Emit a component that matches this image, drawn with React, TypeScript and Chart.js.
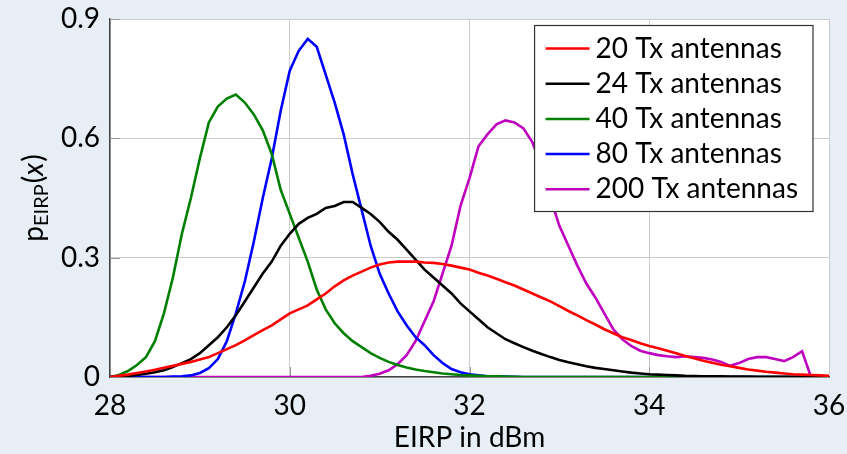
import React, { useEffect, useRef } from "react";
import { Chart, registerables } from "chart.js";

Chart.register(...registerables);

const X = [
  28.0, 28.1, 28.2, 28.3, 28.4, 28.5, 28.6, 28.7, 28.8, 28.9,
  29.0, 29.1, 29.2, 29.3, 29.4, 29.5, 29.6, 29.7, 29.8, 29.9,
  30.0, 30.1, 30.2, 30.3, 30.4, 30.5, 30.6, 30.7, 30.8, 30.9,
  31.0, 31.1, 31.2, 31.3, 31.4, 31.5, 31.6, 31.7, 31.8, 31.9,
  32.0, 32.1, 32.2, 32.3, 32.4, 32.5, 32.6, 32.7, 32.8, 32.9,
  33.0, 33.1, 33.2, 33.3, 33.4, 33.5, 33.6, 33.7, 33.8, 33.9,
  34.0, 34.1, 34.2, 34.3, 34.4, 34.5, 34.6, 34.7, 34.8, 34.9,
  35.0, 35.1, 35.2, 35.3, 35.4, 35.5, 35.6, 35.7, 35.8, 35.9,
  36.0,
];

const TX20 = [
  0, 0.003, 0.006, 0.01, 0.014, 0.018, 0.023, 0.028, 0.033, 0.038,
  0.044, 0.05, 0.06, 0.07, 0.08, 0.092, 0.105, 0.118, 0.13, 0.145,
  0.16, 0.17, 0.18, 0.195, 0.21, 0.228, 0.243, 0.255, 0.265, 0.275,
  0.283, 0.288, 0.29, 0.29, 0.29, 0.288, 0.287, 0.284, 0.28, 0.275,
  0.27, 0.262, 0.255, 0.247, 0.238, 0.23, 0.22, 0.21, 0.2, 0.19,
  0.178, 0.166, 0.155, 0.143, 0.132, 0.12, 0.11, 0.1, 0.093, 0.085,
  0.078, 0.072, 0.066, 0.06, 0.053, 0.047, 0.041, 0.036, 0.031, 0.027,
  0.023, 0.019, 0.016, 0.013, 0.011, 0.009, 0.007, 0.006, 0.005, 0.004,
  0.003,
];

const TX24 = [
  0, 0.001, 0.003, 0.005, 0.008, 0.012, 0.017, 0.025, 0.035, 0.045,
  0.06, 0.08, 0.1, 0.125, 0.155, 0.19, 0.225, 0.26, 0.29, 0.33,
  0.36, 0.385, 0.4, 0.41, 0.425, 0.43, 0.44, 0.44, 0.425, 0.41,
  0.39, 0.365, 0.345, 0.32, 0.295, 0.27, 0.25, 0.23, 0.21, 0.185,
  0.165, 0.145, 0.125, 0.11, 0.095, 0.085, 0.075, 0.066, 0.058, 0.05,
  0.043, 0.037, 0.032, 0.027, 0.023, 0.02, 0.017, 0.014, 0.011, 0.009,
  0.007, 0.006, 0.005, 0.004, 0.003, 0.0025, 0.002, 0.0018, 0.0015, 0.0012,
  0.001, 0.001, 0.0008, 0.0006, 0.0005, 0.0004, 0.0003, 0.0002, 0.0001, 0,
  0,
];

const TX40 = [
  0, 0.005, 0.015, 0.03, 0.05, 0.09, 0.16, 0.25, 0.36, 0.45,
  0.55, 0.64, 0.68, 0.7, 0.71, 0.69, 0.66, 0.62, 0.56, 0.47,
  0.41, 0.35, 0.29, 0.22, 0.17, 0.135, 0.11, 0.09, 0.075, 0.06,
  0.048, 0.038, 0.03, 0.024, 0.019, 0.015, 0.012, 0.009, 0.007, 0.005,
  0.004, 0.003, 0.002, 0.0015, 0.001, 0.0005, 0, 0, 0, 0,
  0, 0, 0, 0, 0, 0, 0, 0, 0, 0,
  0, 0, 0, 0, 0, 0, 0, 0, 0, 0,
  0, 0, 0, 0, 0, 0, 0, 0, 0, 0,
  0,
];

const TX80 = [
  0, 0, 0, 0, 0, 0, 0, 0.001, 0.002, 0.004,
  0.01, 0.022, 0.045, 0.09, 0.16, 0.24, 0.34, 0.45, 0.55, 0.67,
  0.77, 0.82, 0.85, 0.83, 0.76, 0.69, 0.61, 0.51, 0.42, 0.33,
  0.26, 0.21, 0.165, 0.13, 0.1, 0.08, 0.055, 0.035, 0.02, 0.012,
  0.007, 0.004, 0.002, 0.0015, 0.001, 0.0005, 0, 0, 0, 0,
  0, 0, 0, 0, 0, 0, 0, 0, 0, 0,
  0, 0, 0, 0, 0, 0, 0, 0, 0, 0,
  0, 0, 0, 0, 0, 0, 0, 0, 0, 0,
  0,
];

const TX200 = [
  0, 0, 0, 0, 0, 0, 0, 0, 0, 0,
  0, 0, 0, 0, 0, 0, 0, 0, 0, 0,
  0, 0, 0, 0, 0, 0, 0, 0, 0, 0.003,
  0.008, 0.017, 0.032, 0.055, 0.09, 0.14, 0.19, 0.26, 0.33, 0.43,
  0.5, 0.58, 0.61, 0.635, 0.645, 0.64, 0.625, 0.59, 0.53, 0.45,
  0.38, 0.33, 0.28, 0.235, 0.2, 0.16, 0.12, 0.095, 0.078, 0.066,
  0.06, 0.055, 0.052, 0.05, 0.052, 0.05, 0.048, 0.044, 0.038, 0.028,
  0.035, 0.045, 0.05, 0.05, 0.045, 0.04, 0.05, 0.065, 0, 0,
  0,
];

const SERIES_LABELS = ["20 Tx antennas", "24 Tx antennas", "40 Tx antennas", "80 Tx antennas", "200 Tx antennas"];
const SERIES_COLORS = ["#ff0000", "#000000", "#008000", "#0000ff", "#bf00bf"];
const SERIES_VALUES = [TX20, TX24, TX40, TX80, TX200];
const Y_TICKS = [0, 0.3, 0.6, 0.9];
const X_TICKS = [28, 30, 32, 34, 36];
const X_TITLE = "EIRP in dBm";

const FONT = "Lato, 'DejaVu Sans', sans-serif";
const FS = 28;
const BG = "#e8eef6";

const zeroPad = (s: any) => {
  s.paddingLeft = 0;
  s.paddingRight = 0;
  s.paddingTop = 0;
  s.paddingBottom = 0;
};

const bgPlugin = {
  id: "bgPlugin",
  beforeDraw(chart: any) {
    const { ctx, width, height, chartArea } = chart;
    ctx.save();
    ctx.fillStyle = BG;
    ctx.fillRect(0, 0, width, height);
    ctx.fillStyle = "#ffffff";
    ctx.fillRect(chartArea.left, chartArea.top, chartArea.right - chartArea.left, chartArea.bottom - chartArea.top);
    ctx.restore();
  },
  beforeDatasetsDraw(chart: any) {
    const { ctx, chartArea, scales } = chart;
    ctx.save();
    ctx.strokeStyle = "#999999";
    ctx.lineWidth = 1;
    for (const v of Y_TICKS) {
      if (v === 0) continue;
      const y = Math.round(scales.y.getPixelForValue(v)) + 0.5;
      ctx.beginPath();
      ctx.moveTo(chartArea.left, y);
      ctx.lineTo(chartArea.left + 10, y);
      ctx.stroke();
    }
    for (const v of X_TICKS) {
      if (v === 28 || v === 36) continue;
      const x = Math.round(scales.x.getPixelForValue(v)) + 0.5;
      ctx.beginPath();
      ctx.moveTo(x, chartArea.bottom);
      ctx.lineTo(x, chartArea.bottom - 10);
      ctx.stroke();
    }
    ctx.restore();
  },
  afterDatasetsDraw(chart: any) {
    const { ctx, chartArea } = chart;
    ctx.save();
    // legend
    ctx.font = `${FS}px ${FONT}`;
    const items = chart.data.datasets;
    let maxW = 0;
    for (const d of items) maxW = Math.max(maxW, ctx.measureText(d.label).width);
    const padL = 11, lineLen = 44, gap = 6, padR = 15, rowH = 35.2, padT = 23;
    const boxW = padL + lineLen + gap + maxW + padR;
    const boxH = 186;
    const boxRight = chartArea.right - 16;
    const boxTop = chartArea.top + 6.5;
    const boxLeft = boxRight - boxW;
    ctx.fillStyle = "#ffffff";
    ctx.fillRect(boxLeft, boxTop, boxW, boxH);
    ctx.strokeStyle = "#333333";
    ctx.lineWidth = 1.2;
    ctx.strokeRect(boxLeft, boxTop, boxW, boxH);
    ctx.textBaseline = "middle";
    ctx.textAlign = "left";
    items.forEach((d: any, i: number) => {
      const y = boxTop + padT + i * rowH;
      ctx.strokeStyle = d.borderColor;
      ctx.lineWidth = 2.5;
      ctx.beginPath();
      ctx.moveTo(boxLeft + padL, y);
      ctx.lineTo(boxLeft + padL + lineLen, y);
      ctx.stroke();
      ctx.fillStyle = "#000000";
      ctx.fillText(d.label, boxLeft + padL + lineLen + gap, y);
    });
    // x title
    ctx.textAlign = "center";
    ctx.textBaseline = "alphabetic";
    ctx.fillStyle = "#000000";
    ctx.fillText(X_TITLE, (chartArea.left + chartArea.right) / 2, 447);
    // y title: p_EIRP(x)
    const cy = (chartArea.top + chartArea.bottom) / 2;
    ctx.translate(43, cy);
    ctx.rotate(-Math.PI / 2);
    const fBig = `${FS}px ${FONT}`;
    const fSmall = `${Math.round(FS * 0.7)}px ${FONT}`;
    const fIt = `italic ${FS}px ${FONT}`;
    ctx.font = fBig; const wP = ctx.measureText("p").width;
    ctx.font = fSmall; const wS = ctx.measureText("EIRP").width;
    ctx.font = fBig; const wL = ctx.measureText("(").width;
    ctx.font = fIt; const wX = ctx.measureText("x").width;
    ctx.font = fBig; const wR = ctx.measureText(")").width;
    const total = wP + wS + 1 + wL + wX + 1 + wR;
    let x0 = -total / 2;
    ctx.textAlign = "left";
    ctx.font = fBig; ctx.fillText("p", x0, 0); x0 += wP;
    ctx.font = fSmall; ctx.fillText("EIRP", x0, 5); x0 += wS + 1;
    ctx.font = fBig; ctx.fillText("(", x0, 0); x0 += wL;
    ctx.font = fIt; ctx.fillText("x", x0, 0); x0 += wX + 1;
    ctx.font = fBig; ctx.fillText(")", x0, 0);
    ctx.restore();
  },
};

export default function App() {
  const ref = useRef<HTMLCanvasElement | null>(null);
  useEffect(() => {
    document.body.style.margin = "0";
    document.body.style.background = BG;
    if (!ref.current) return;
    const datasets = SERIES_VALUES.map((vals, i) => ({
      label: SERIES_LABELS[i],
      data: X.map((x, j) => ({ x, y: vals[j] })),
      borderColor: SERIES_COLORS[i],
      backgroundColor: SERIES_COLORS[i],
      borderWidth: 2.6,
      pointRadius: 0,
      tension: 0,
      fill: false,
    }));
    const chart = new Chart(ref.current, {
      type: "line",
      data: { datasets },
      options: {
        animation: false,
        responsive: false,
        maintainAspectRatio: false,
        layout: { padding: { top: 19, right: 18, left: 0, bottom: 0 } },
        plugins: { legend: { display: false }, tooltip: { enabled: false } },
        scales: {
          x: {
            type: "linear",
            min: 28,
            max: 36,
            afterBuildTicks: (s: any) => { s.ticks = X_TICKS.map((v) => ({ value: v })); },
            afterFit: (s: any) => { s.height = 77; zeroPad(s); },
            grid: { color: "#cccccc", lineWidth: 1, drawTicks: false },
            border: { color: "#444444", width: 1.5 },
            ticks: { color: "#000000", font: { family: FONT, size: FS }, padding: 12, maxRotation: 0 },
          },
          y: {
            type: "linear",
            min: 0,
            max: 0.9,
            afterBuildTicks: (s: any) => { s.ticks = Y_TICKS.map((v) => ({ value: v })); },
            afterFit: (s: any) => { s.width = 110; zeroPad(s); },
            grid: { color: "#cccccc", lineWidth: 1, drawTicks: false },
            border: { color: "#444444", width: 1.5 },
            ticks: {
              color: "#000000",
              font: { family: FONT, size: FS },
              padding: 10,
              callback: (v: any) => String(v),
            },
          },
        },
      },
      plugins: [bgPlugin],
    });
    return () => chart.destroy();
  }, []);
  return <canvas ref={ref} width={847} height={454} style={{ display: "block" }} />;
}
